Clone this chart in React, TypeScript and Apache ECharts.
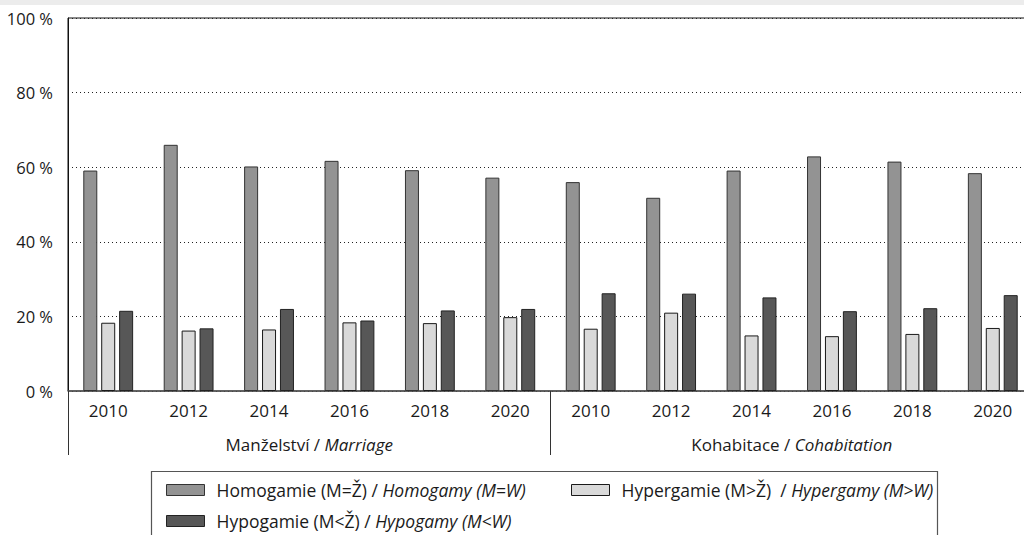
import React, { useEffect, useRef } from "react";
import * as echarts from "echarts";

const years = ["2010", "2012", "2014", "2016", "2018", "2020", "2010", "2012", "2014", "2016", "2018", "2020"];
const groupsCz = ["Manželství / ", "Kohabitace / "];
const groupsEn = ["Marriage", "Cohabitation"];
const yTicks = [0, 20, 40, 60, 80, 100];

const homogamy = [59.1, 66.0, 60.2, 61.7, 59.2, 57.2, 56.0, 51.8, 59.1, 62.9, 61.5, 58.4];
const hypergamy = [18.3, 16.2, 16.5, 18.4, 18.2, 19.8, 16.7, 21.0, 14.9, 14.7, 15.3, 16.9];
const hypogamy = [21.5, 16.8, 22.0, 18.9, 21.6, 22.0, 26.2, 26.1, 25.1, 21.4, 22.2, 25.7];

const seriesNames = [
  "Homogamie (M=Ž) / Homogamy (M=W)",
  "Hypergamie (M>Ž)  / Hypergamy (M>W)",
  "Hypogamie (M<Ž) / Hypogamy (M<W)",
];
const seriesColors = ["#939393", "#d9d9d9", "#575757"];
const seriesBorders = ["#333333", "#1a1a1a", "#222222"];

const FONT = "Open Sans";

export default function App() {
  const ref = useRef<HTMLDivElement>(null);
  useEffect(() => {
    if (!ref.current) return;
    const chart = echarts.init(ref.current, undefined, { renderer: "svg" });
    const seriesData = [homogamy, hypergamy, hypogamy];
    const legendFormatter = (name: string) => {
      const i = name.indexOf("/ ");
      return "{n|" + name.slice(0, i + 2) + "}{i|" + name.slice(i + 2) + "}";
    };
    const rich = {
      n: { fontFamily: FONT, fontSize: 17.5, color: "#1a1a1a", lineHeight: 22 },
      i: { fontFamily: FONT, fontSize: 17.5, color: "#1a1a1a", fontStyle: "italic", lineHeight: 22 },
    };
    const legendPos = [
      { left: 166, top: 481 },
      { left: 571, top: 481 },
      { left: 166, top: 512 },
    ];
    chart.setOption({
      animation: false,
      backgroundColor: "#ffffff",
      graphic: [
        { type: "rect", shape: { x: 0, y: 0, width: 1040, height: 5 }, style: { fill: "#ececec" }, silent: true },
        {
          type: "rect",
          shape: { x: 151.5, y: 471.5, width: 786, height: 80 },
          style: { fill: "none", stroke: "#555555", lineWidth: 1.2 },
          silent: true,
        },
      ],
      grid: {
        left: 68,
        top: 18,
        width: 965,
        height: 373,
        show: true,
        borderColor: "#111111",
        borderWidth: 1,
        backgroundColor: "transparent",
      },
      legend: seriesNames.map((nm, k) => ({
        data: [nm],
        left: legendPos[k].left,
        top: legendPos[k].top,
        orient: "horizontal",
        padding: 0,
        itemWidth: 38,
        itemHeight: 11,
        icon: "rect",
        selectedMode: false,
        itemStyle: { color: seriesColors[k], borderColor: seriesBorders[k], borderWidth: 1 },
        formatter: legendFormatter,
        textStyle: { rich, padding: [0, 0, 0, 7] },
      })),
      xAxis: [
        {
          type: "category",
          data: years,
          position: "bottom",
          axisLine: { show: true, lineStyle: { color: "#555555", width: 1.5 } },
          axisTick: { show: false },
          axisLabel: { interval: 0, margin: 11, fontFamily: FONT, fontSize: 17, color: "#1a1a1a" },
        },
        {
          type: "category",
          data: groupsCz.map((g, i) => g + groupsEn[i]),
          position: "bottom",
          offset: 0,
          axisLine: { show: false },
          axisTick: { show: true, length: 64, lineStyle: { color: "#333333", width: 1 } },
          axisLabel: {
            interval: 0,
            margin: 45,
            formatter: (v: string) => {
              const i = v.indexOf("/ ");
              return "{n|" + v.slice(0, i + 2) + "}{i|" + v.slice(i + 2) + "}";
            },
            rich: {
              n: { fontFamily: FONT, fontSize: 17, color: "#1a1a1a" },
              i: { fontFamily: FONT, fontSize: 17, color: "#1a1a1a", fontStyle: "italic" },
            },
          },
        },
      ],
      yAxis: {
        type: "value",
        min: yTicks[0],
        max: yTicks[yTicks.length - 1],
        interval: yTicks[1] - yTicks[0],
        axisLine: { show: true, lineStyle: { color: "#111111", width: 1 } },
        axisTick: { show: false },
        splitLine: { show: true, lineStyle: { color: "#222222", type: [1, 3], width: 1 } },
        axisLabel: { formatter: "{value} %", margin: 15, fontFamily: FONT, fontSize: 16.5, color: "#1a1a1a" },
      },
      series: seriesNames.map((nm, k) => ({
        name: nm,
        type: "bar",
        xAxisIndex: 0,
        data: seriesData[k],
        barWidth: 14,
        barGap: "28%",
        itemStyle: { color: seriesColors[k], borderColor: seriesBorders[k], borderWidth: 1 },
      })),
    });
    return () => chart.dispose();
  }, []);
  return (
    <div style={{ position: "absolute", left: 0, top: 0, width: 1024, height: 535, overflow: "hidden" }}>
      <div ref={ref} style={{ width: 1040, height: 535 }} />
    </div>
  );
}
